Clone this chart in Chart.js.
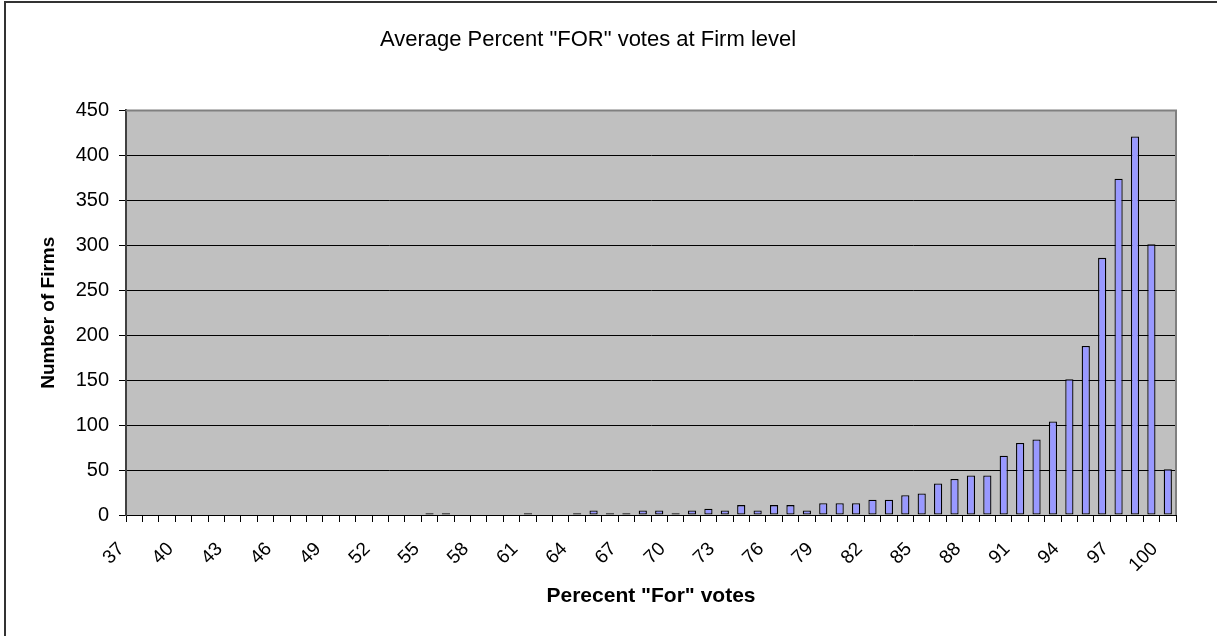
<!DOCTYPE html>
<html>
<head>
<meta charset="utf-8">
<script src="https://cdn.jsdelivr.net/npm/chart.js@4"></script>
<style>
  html, body { margin: 0; padding: 0; background: #fff; }
  #wrap { width: 1217px; height: 636px; }
</style>
</head>
<body>
<div id="wrap"><canvas id="votes" width="1217" height="636"></canvas></div>
<script>
// percent "For" votes (x categories)
const percents = [37, 38, 39, 40, 41, 42, 43, 44, 45, 46, 47, 48, 49, 50, 51, 52,
  53, 54, 55, 56, 57, 58, 59, 60, 61, 62, 63, 64, 65, 66, 67, 68, 69, 70, 71, 72,
  73, 74, 75, 76, 77, 78, 79, 80, 81, 82, 83, 84, 85, 86, 87, 88, 89, 90, 91, 92,
  93, 94, 95, 96, 97, 98, 99, 100];

// number of firms per percent
const firms = [0, 0, 0, 0, 0, 0, 0, 0, 0, 0, 0, 0, 0, 0, 0, 0,
  0, 0, 2, 2, 0, 0, 0, 0, 2, 0, 0, 2, 5, 2, 2, 5, 5, 2, 5, 7,
  5, 11, 5, 11, 11, 5, 13, 13, 13, 17, 17, 22, 24, 35, 40, 44, 44, 66, 80, 84,
  104, 151, 188, 286, 374, 421, 301, 51];

// labels that are written under the x axis
const shownLabels = ['37', '40', '43', '46', '49', '52', '55', '58', '61', '64', '67',
  '70', '73', '76', '79', '82', '85', '88', '91', '94', '97', '100'];

const yTicks = { min: 0, max: 450, step: 50 };

const FONT = '"Liberation Sans", Arial, sans-serif';

// grauer Plotbereich + Rahmen wie im Excel-Diagramm
const frame = {
  id: 'frame',
  beforeDraw(chart) {
    const { ctx, chartArea: a } = chart;
    ctx.save();
    ctx.fillStyle = '#fff';
    ctx.fillRect(0, 0, chart.width, chart.height);
    ctx.fillStyle = '#c0c0c0';
    ctx.fillRect(a.left, a.top, a.right - a.left, a.bottom - a.top);
    ctx.strokeStyle = '#333';
    ctx.lineWidth = 2;
    ctx.beginPath();
    ctx.moveTo(5, chart.height);
    ctx.lineTo(5, 2);
    ctx.lineTo(chart.width, 2);
    ctx.stroke();
    ctx.restore();
  },
  afterDraw(chart) {
    const { ctx, chartArea: a } = chart;
    ctx.save();
    ctx.strokeStyle = '#808080';
    ctx.lineWidth = 2;
    ctx.beginPath();
    ctx.moveTo(a.left, a.top);
    ctx.lineTo(a.right, a.top);
    ctx.lineTo(a.right, a.bottom);
    ctx.stroke();
    ctx.restore();
  }
};

new Chart(document.getElementById('votes'), {
  type: 'bar',
  data: {
    labels: percents.map(String),
    datasets: [{
      label: 'Number of Firms',
      data: firms,
      backgroundColor: '#9999ff',
      borderColor: '#000',
      borderWidth: 1.3,
      borderSkipped: false,
      barPercentage: 0.5,
      categoryPercentage: 1
    }]
  },
  options: {
    responsive: false,
    animation: false,
    layout: { padding: { left: 0, right: 41, top: 0, bottom: 0 } },
    plugins: {
      legend: { display: false },
      tooltip: { enabled: false },
      title: {
        display: true,
        text: 'Average Percent "FOR" votes at Firm level',
        color: '#000',
        font: { family: FONT, size: 22, weight: 'normal' },
        padding: { top: 27, bottom: 57 }
      }
    },
    scales: {
      x: {
        offset: true,
        grid: { offset: true, drawOnChartArea: false, drawTicks: true, tickLength: 7, color: '#000' },
        border: { color: '#000', width: 1 },
        ticks: {
          autoSkip: false,
          maxRotation: 45,
          minRotation: 45,
          padding: 16,
          labelOffset: -13,
          color: '#000',
          font: { family: FONT, size: 19 },
          callback: function (value) {
            const lab = this.getLabelForValue(value);
            return shownLabels.includes(lab) ? lab : '';
          }
        },
        title: {
          display: true,
          text: 'Perecent "For" votes',
          color: '#000',
          font: { family: FONT, size: 21, weight: 'bold' },
          padding: { top: 0, bottom: 27 }
        },
        afterFit(scale) { scale.height = 121; }
      },
      y: {
        min: yTicks.min,
        max: yTicks.max,
        grid: { color: '#000', lineWidth: 1, tickLength: 7 },
        border: { color: '#404040', width: 2 },
        ticks: {
          stepSize: yTicks.step,
          padding: 10,
          color: '#000',
          font: { family: FONT, size: 20 }
        },
        title: {
          display: true,
          text: 'Number of Firms',
          color: '#000',
          font: { family: FONT, size: 19, weight: 'bold' },
          padding: { top: 37, bottom: 0 }
        },
        afterFit(scale) { scale.width = 126; }
      }
    }
  },
  plugins: [frame]
});
</script>
</body>
</html>
